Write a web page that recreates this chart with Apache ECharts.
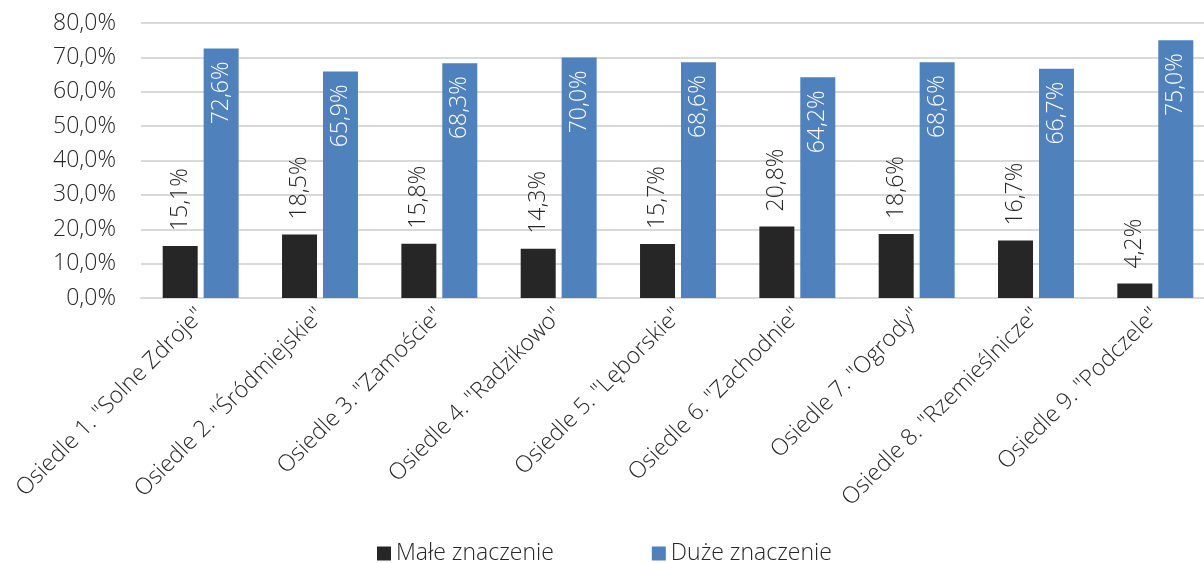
<!DOCTYPE html>
<html>
<head>
<meta charset="utf-8">
<script src="https://cdn.jsdelivr.net/npm/echarts@6/dist/echarts.min.js"></script>
<style>
html, body { margin: 0; padding: 0; background: #fff; }
#chart { width: 1204px; height: 563px; }
</style>
</head>
<body>
<div id="chart"></div>
<script>
var categories = ['Osiedle 1. "Solne Zdroje"', 'Osiedle 2. "Śródmiejskie"', 'Osiedle 3. "Zamoście"',
    'Osiedle 4. "Radzikowo"', 'Osiedle 5. "Lęborskie"', 'Osiedle 6. "Zachodnie"',
    'Osiedle 7. "Ogrody"', 'Osiedle 8. "Rzemieślnicze"', 'Osiedle 9. "Podczele"'];
var maleZnaczenie = [15.1, 18.5, 15.8, 14.3, 15.7, 20.8, 18.6, 16.7, 4.2];
var duzeZnaczenie = [72.6, 65.9, 68.3, 70.0, 68.6, 64.2, 68.6, 66.7, 75.0];
var seriesNames = ['Małe znaczenie', 'Duże znaczenie'];

var font = '"Open Sans", "Noto Sans", sans-serif';
var fs = 23;

function pct(v) {
    return v.toFixed(1).replace('.', ',') + '%';
}

var chart = echarts.init(document.getElementById('chart'));

var option = {
    animation: false,
    textStyle: { fontFamily: font },
    grid: {
        left: 141,
        width: 1074,
        top: 23,
        bottom: 265,
        containLabel: false,
        outerBoundsMode: 'none'
    },
    legend: {
        data: seriesNames,
        top: 537,
        left: 372,
        itemWidth: 14,
        itemHeight: 14,
        itemGap: 98,
        icon: 'rect',
        textStyle: { fontSize: fs, color: '#262626', fontFamily: font, fontWeight: 300 }
    },
    xAxis: {
        type: 'category',
        data: categories,
        axisLine: { lineStyle: { color: '#d9d9d9', width: 2 } },
        axisTick: { show: false },
        axisLabel: {
            interval: 0,
            rotate: 45,
            fontSize: fs,
            color: '#262626',
            fontWeight: 300,
            margin: 14
        }
    },
    yAxis: {
        type: 'value',
        min: 0,
        max: 80,
        interval: 10,
        axisLine: { show: false },
        axisTick: { show: false },
        splitLine: { lineStyle: { color: '#d9d9d9', width: 2 } },
        axisLabel: {
            fontSize: fs,
            color: '#262626',
            fontWeight: 300,
            margin: 25,
            formatter: function (v) { return pct(v); }
        }
    },
    series: [{
        name: seriesNames[0],
        type: 'bar',
        data: maleZnaczenie,
        barWidth: 35,
        barGap: '17%',
        itemStyle: { color: '#262626' },
        label: {
            show: true,
            position: 'top',
            rotate: 90,
            align: 'left',
            verticalAlign: 'middle',
            distance: 15,
            fontSize: fs,
            color: '#262626',
            fontWeight: 300,
            formatter: function (p) { return pct(p.value); }
        }
    }, {
        name: seriesNames[1],
        type: 'bar',
        data: duzeZnaczenie,
        barWidth: 35,
        itemStyle: { color: '#4f81bd' },
        label: {
            show: true,
            position: 'insideTop',
            rotate: 90,
            align: 'right',
            verticalAlign: 'middle',
            distance: 13,
            fontSize: fs,
            color: '#ffffff',
            fontWeight: 300,
            formatter: function (p) { return pct(p.value); }
        }
    }]
};

chart.setOption(option);
</script>
</body>
</html>
